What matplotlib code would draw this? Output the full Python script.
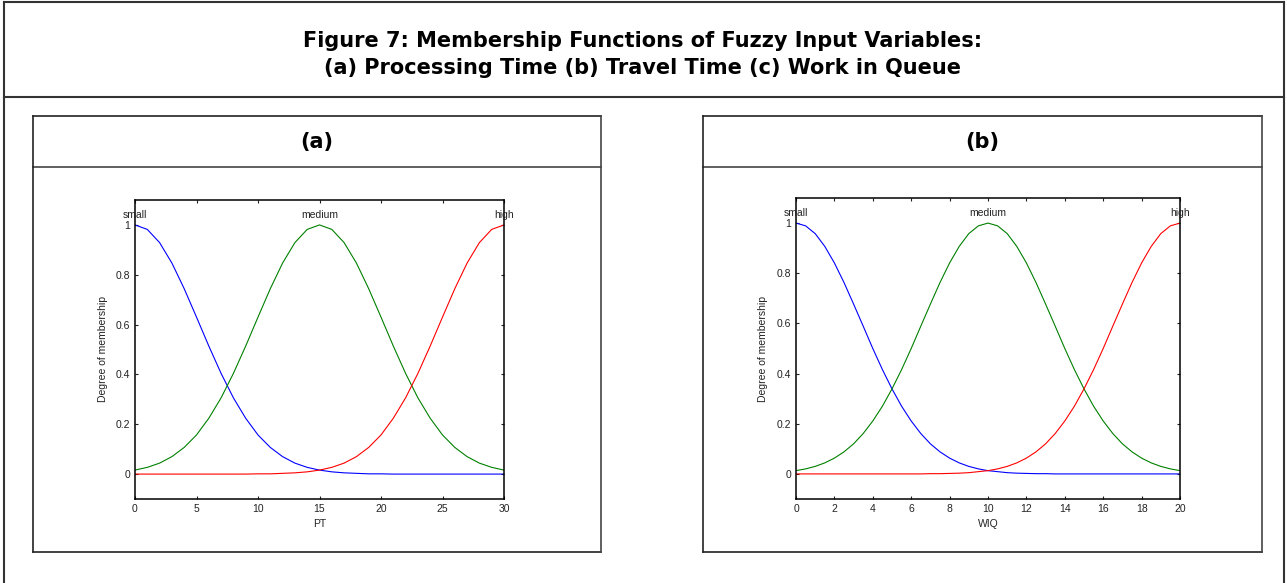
import matplotlib.pyplot as plt
from matplotlib.lines import Line2D

W, H = 1287, 583

# (a) Processing Time, read every 1 unit
pt_x = list(range(0, 31))
pt_small = [1.0, 0.982, 0.929, 0.847, 0.744, 0.630, 0.514, 0.404, 0.306, 0.224,
            0.157, 0.107, 0.070, 0.044, 0.027, 0.016, 0.009, 0.005, 0.003, 0.001,
            0.001, 0.0, 0.0, 0.0, 0.0, 0.0, 0.0, 0.0, 0.0, 0.0, 0.0]
pt_medium = [0.016, 0.027, 0.044, 0.070, 0.107, 0.157, 0.224, 0.306, 0.404, 0.514,
             0.630, 0.744, 0.847, 0.929, 0.982, 1.0, 0.982, 0.929, 0.847, 0.744,
             0.630, 0.514, 0.404, 0.306, 0.224, 0.157, 0.107, 0.070, 0.044, 0.027,
             0.016]
pt_high = [0.0, 0.0, 0.0, 0.0, 0.0, 0.0, 0.0, 0.0, 0.0, 0.0,
           0.001, 0.001, 0.003, 0.005, 0.009, 0.016, 0.027, 0.044, 0.070, 0.107,
           0.157, 0.224, 0.306, 0.404, 0.514, 0.630, 0.744, 0.847, 0.929, 0.982,
           1.0]

# (b) Work in Queue, read every 0.5 unit
wiq_x = [i * 0.5 for i in range(41)]
wiq_small = [1.0, 0.989, 0.958, 0.907, 0.841, 0.763, 0.677, 0.589, 0.500, 0.416,
             0.339, 0.270, 0.211, 0.161, 0.120, 0.088, 0.063, 0.044, 0.030, 0.020,
             0.013, 0.009, 0.005, 0.003, 0.002, 0.001, 0.001, 0.0, 0.0, 0.0,
             0.0, 0.0, 0.0, 0.0, 0.0, 0.0, 0.0, 0.0, 0.0, 0.0, 0.0]
wiq_medium = [0.013, 0.020, 0.030, 0.044, 0.063, 0.088, 0.120, 0.161, 0.211, 0.270,
              0.339, 0.416, 0.500, 0.589, 0.677, 0.763, 0.841, 0.907, 0.958, 0.989,
              1.0, 0.989, 0.958, 0.907, 0.841, 0.763, 0.677, 0.589, 0.500, 0.416,
              0.339, 0.270, 0.211, 0.161, 0.120, 0.088, 0.063, 0.044, 0.030, 0.020,
              0.013]
wiq_high = [0.0, 0.0, 0.0, 0.0, 0.0, 0.0, 0.0, 0.0, 0.0, 0.0,
            0.0, 0.0, 0.0, 0.0, 0.001, 0.001, 0.002, 0.003, 0.005, 0.009,
            0.013, 0.020, 0.030, 0.044, 0.063, 0.088, 0.120, 0.161, 0.211, 0.270,
            0.339, 0.416, 0.500, 0.589, 0.677, 0.763, 0.841, 0.907, 0.958, 0.989,
            1.0]

mf_names = ["small", "medium", "high"]
mf_colors = ["#0000ff", "#008000", "#ff0000"]
y_ticks = [0, 0.2, 0.4, 0.6, 0.8, 1]

panels = [
    {"title": "(a)", "xlabel": "PT", "x": pt_x, "ys": [pt_small, pt_medium, pt_high],
     "centers": [0, 15, 30], "xticks": [0, 5, 10, 15, 20, 25, 30],
     "box": (33, 116, 601, 552), "ax": (135, 200, 504, 499)},
    {"title": "(b)", "xlabel": "WIQ", "x": wiq_x, "ys": [wiq_small, wiq_medium, wiq_high],
     "centers": [0, 10, 20], "xticks": list(range(0, 21, 2)),
     "box": (703, 116, 1262, 552), "ax": (796, 198, 1180, 499)},
]


def fx(px):
    return px / W


def fy(py):
    return 1 - py / H


def hline(fig, x0, x1, y, lw=1.5, color="#333333"):
    fig.add_artist(Line2D([fx(x0), fx(x1)], [fy(y), fy(y)], lw=lw, color=color,
                          transform=fig.transFigure))


def vline(fig, x, y0, y1, lw=1.5, color="#333333"):
    fig.add_artist(Line2D([fx(x), fx(x)], [fy(y0), fy(y1)], lw=lw, color=color,
                          transform=fig.transFigure))


fig = plt.figure(figsize=(W / 100, H / 100), dpi=100)
fig.patch.set_facecolor("white")

# outer frame with title strip
hline(fig, 4, 1284, 2)
hline(fig, 4, 1284, 97)
vline(fig, 4, 2, 583)
vline(fig, 1284, 2, 583)
fig.text(fx(643), fy(41), "Figure 7: Membership Functions of Fuzzy Input Variables:",
         ha="center", va="center", fontsize=15, fontweight="bold", family="DejaVu Sans")
fig.text(fx(643), fy(68), "(a) Processing Time (b) Travel Time (c) Work in Queue",
         ha="center", va="center", fontsize=15, fontweight="bold", family="DejaVu Sans")

for p in panels:
    x0, y0, x1, y1 = p["box"]
    hline(fig, x0, x1, y0, lw=1.2, color="#222222")
    hline(fig, x0, x1, 167, lw=1.2, color="#444444")
    hline(fig, x0, x1, y1, lw=1.2, color="#222222")
    vline(fig, x0, y0, y1, lw=1.2, color="#222222")
    vline(fig, x1, y0, y1, lw=1.2, color="#444444")
    fig.text(fx((x0 + x1) / 2), fy(142), p["title"], ha="center", va="center",
             fontsize=15, fontweight="bold", family="DejaVu Sans")

    l, t, r, b = p["ax"]
    ax = fig.add_axes([fx(l), fy(b), fx(r) - fx(l), (b - t) / H])
    for y, c in zip(p["ys"], mf_colors):
        ax.plot(p["x"], y, color=c, lw=0.8)
    for name, cx in zip(mf_names, p["centers"]):
        ax.text(cx, 1.04, name, ha="center", va="center", fontsize=7.5,
                family="Liberation Sans", color="#222222")
    ax.set_xlim(p["xticks"][0], p["xticks"][-1])
    ax.set_ylim(-0.1, 1.1)
    ax.set_xticks(p["xticks"])
    ax.set_yticks(y_ticks)
    ax.set_yticklabels(["0", "0.2", "0.4", "0.6", "0.8", "1"])
    ax.tick_params(direction="in", length=2.5, width=0.8, top=True, right=True,
                   labelsize=7.5, pad=3.5, colors="#222222")
    for lab in ax.get_xticklabels() + ax.get_yticklabels():
        lab.set_family("Liberation Sans")
    for s in ax.spines.values():
        s.set_linewidth(1.1)
    ax.text(-0.087, 0.5, "Degree of membership", transform=ax.transAxes, rotation=90,
            ha="center", va="center", fontsize=7.5, family="Liberation Sans", color="#222222")
    ax.text(0.5, -0.084, p["xlabel"], transform=ax.transAxes, ha="center", va="center",
            fontsize=7.5, family="Liberation Sans", color="#222222")

fig.savefig("out.png", dpi=100, facecolor="white")
